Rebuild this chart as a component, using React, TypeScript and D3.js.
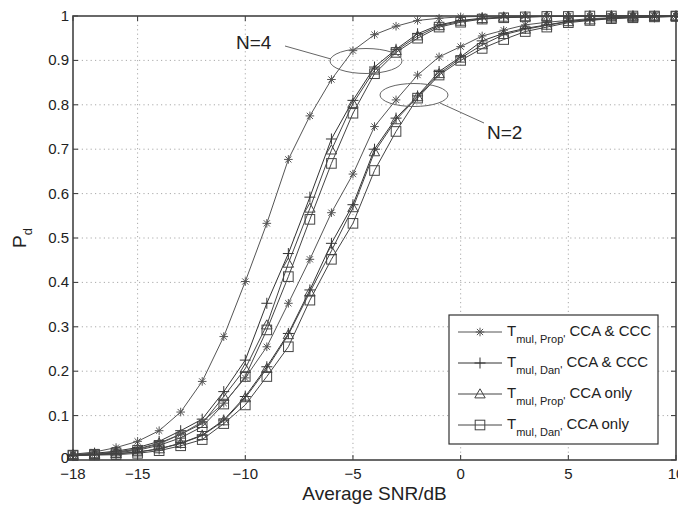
import React from "react";
import * as d3 from "d3";

const snr = d3.range(-18, 11, 1);

const n4PropFull = [0.013, 0.018, 0.028, 0.042, 0.066, 0.108, 0.177, 0.278, 0.402, 0.533, 0.677, 0.775, 0.857, 0.922, 0.958, 0.977, 0.99, 0.995, 0.998, 0.999, 1, 1, 1, 1, 1, 1, 1, 1, 1];
const n4DanFull = [0.012, 0.015, 0.02, 0.028, 0.042, 0.066, 0.092, 0.154, 0.225, 0.353, 0.465, 0.592, 0.723, 0.81, 0.885, 0.925, 0.96, 0.98, 0.99, 0.995, 0.997, 0.998, 0.999, 0.999, 1, 1, 1, 1, 1];
const n4PropCCA = [0.012, 0.014, 0.018, 0.025, 0.038, 0.058, 0.082, 0.143, 0.206, 0.304, 0.443, 0.567, 0.698, 0.803, 0.878, 0.922, 0.955, 0.978, 0.988, 0.994, 0.997, 0.998, 0.999, 0.999, 1, 1, 1, 1, 1];
const n4DanCCA = [0.011, 0.013, 0.016, 0.022, 0.033, 0.05, 0.075, 0.126, 0.188, 0.293, 0.413, 0.542, 0.668, 0.781, 0.87, 0.918, 0.95, 0.975, 0.986, 0.993, 0.996, 0.998, 0.999, 0.999, 1, 1, 1, 1, 1];

const n2PropFull = [0.011, 0.013, 0.017, 0.024, 0.036, 0.058, 0.086, 0.128, 0.185, 0.255, 0.353, 0.452, 0.557, 0.644, 0.751, 0.811, 0.867, 0.908, 0.931, 0.955, 0.968, 0.98, 0.986, 0.99, 0.994, 0.996, 0.998, 0.999, 1];
const n2DanFull = [0.01, 0.012, 0.014, 0.018, 0.025, 0.038, 0.056, 0.09, 0.143, 0.21, 0.285, 0.383, 0.488, 0.575, 0.7, 0.77, 0.82, 0.875, 0.908, 0.944, 0.961, 0.972, 0.98, 0.988, 0.992, 0.995, 0.997, 0.998, 0.999];
const n2PropCCA = [0.01, 0.012, 0.014, 0.018, 0.025, 0.037, 0.055, 0.088, 0.14, 0.206, 0.282, 0.378, 0.471, 0.568, 0.694, 0.766, 0.818, 0.87, 0.905, 0.935, 0.958, 0.97, 0.979, 0.987, 0.991, 0.995, 0.997, 0.998, 0.999];
const n2DanCCA = [0.01, 0.011, 0.012, 0.015, 0.021, 0.032, 0.046, 0.082, 0.124, 0.188, 0.255, 0.36, 0.452, 0.533, 0.652, 0.74, 0.815, 0.867, 0.9, 0.927, 0.947, 0.965, 0.975, 0.985, 0.99, 0.994, 0.996, 0.998, 0.999];

const xTicks = [-18, -15, -10, -5, 0, 5, 10];
const yTicks = [0, 0.1, 0.2, 0.3, 0.4, 0.5, 0.6, 0.7, 0.8, 0.9, 1];

type MarkerKind = "star" | "plus" | "tri" | "square";
const series: { values: number[]; marker: MarkerKind; color: string }[] = [
  { values: n4PropFull, marker: "star", color: "#555" },
  { values: n4DanFull, marker: "plus", color: "#333" },
  { values: n4PropCCA, marker: "tri", color: "#444" },
  { values: n4DanCCA, marker: "square", color: "#444" },
  { values: n2PropFull, marker: "star", color: "#555" },
  { values: n2DanFull, marker: "plus", color: "#333" },
  { values: n2PropCCA, marker: "tri", color: "#444" },
  { values: n2DanCCA, marker: "square", color: "#444" },
];

const legendItems: { marker: MarkerKind; sub: string; rest: string; color: string }[] = [
  { marker: "star", sub: "mul, Prop'", rest: " CCA & CCC", color: "#555" },
  { marker: "plus", sub: "mul, Dan'", rest: " CCA & CCC", color: "#333" },
  { marker: "tri", sub: "mul, Prop'", rest: " CCA only", color: "#444" },
  { marker: "square", sub: "mul, Dan'", rest: " CCA only", color: "#444" },
];

const W = 678;
const H = 507;
const M = { left: 73, right: 676, top: 16, bottom: 460 };

function Marker({ kind, x, y, color }: { kind: MarkerKind; x: number; y: number; color: string }) {
  const s = 4.3;
  if (kind === "star") {
    const d = s * 0.72;
    return (
      <g stroke={color} strokeWidth={1}>
        <line x1={x - s} y1={y} x2={x + s} y2={y} />
        <line x1={x} y1={y - s} x2={x} y2={y + s} />
        <line x1={x - d} y1={y - d} x2={x + d} y2={y + d} />
        <line x1={x - d} y1={y + d} x2={x + d} y2={y - d} />
      </g>
    );
  }
  if (kind === "plus") {
    const p = 5.5;
    return (
      <g stroke={color} strokeWidth={1}>
        <line x1={x - p} y1={y} x2={x + p} y2={y} />
        <line x1={x} y1={y - p} x2={x} y2={y + p} />
      </g>
    );
  }
  if (kind === "tri") {
    const t = 5.2;
    return (
      <path
        d={`M${x},${y - t} L${x + t},${y + t * 0.75} L${x - t},${y + t * 0.75} Z`}
        fill="none"
        stroke={color}
        strokeWidth={1}
      />
    );
  }
  const q = 4.8;
  return <rect x={x - q} y={y - q} width={2 * q} height={2 * q} fill="none" stroke={color} strokeWidth={1} />;
}

export default function App() {
  const x = d3.scaleLinear().domain([-18, 10]).range([M.left, M.right]);
  const y = d3.scaleLinear().domain([0, 1]).range([M.bottom, M.top]);
  const line = d3
    .line<[number, number]>()
    .x((d) => x(d[0]))
    .y((d) => y(d[1]));

  const font = "Arial, 'Liberation Sans', Helvetica, sans-serif";

  return (
    <svg
      width={W}
      height={H}
      style={{ position: "absolute", left: 0, top: 0, background: "#fff" }}
      fontFamily={font}
    >
      <rect x={0} y={0} width={W} height={H} fill="#fff" />
      {/* grid */}
      {xTicks.slice(1, -1).map((t) => (
        <line key={"gx" + t} x1={x(t)} x2={x(t)} y1={M.top} y2={M.bottom} stroke="#aaa" strokeDasharray="1.2,3.2" strokeWidth={1} />
      ))}
      {yTicks.slice(1, -1).map((t) => (
        <line key={"gy" + t} x1={M.left} x2={M.right} y1={y(t)} y2={y(t)} stroke="#aaa" strokeDasharray="1.2,3.2" strokeWidth={1} />
      ))}
      {/* tick marks */}
      {xTicks.map((t) => (
        <g key={"tx" + t} stroke="#333">
          <line x1={x(t)} x2={x(t)} y1={M.bottom} y2={M.bottom - 5} />
          <line x1={x(t)} x2={x(t)} y1={M.top} y2={M.top + 5} />
        </g>
      ))}
      {yTicks.map((t) => (
        <g key={"ty" + t} stroke="#333">
          <line x1={M.left} x2={M.left + 5} y1={y(t)} y2={y(t)} />
          <line x1={M.right} x2={M.right - 5} y1={y(t)} y2={y(t)} />
        </g>
      ))}
      {/* curves */}
      {series.map((s, i) => {
        const pts: [number, number][] = snr.map((v, j) => [v, s.values[j]]);
        return (
          <g key={"s" + i}>
            <path d={line(pts) || ""} fill="none" stroke={s.color} strokeWidth={1} />
            {pts.map((p, j) => (
              <Marker key={j} kind={s.marker} x={x(p[0])} y={y(p[1])} color={s.color} />
            ))}
          </g>
        );
      })}
      {/* frame */}
      <rect x={M.left} y={M.top} width={M.right - M.left} height={M.bottom - M.top} fill="none" stroke="#444" strokeWidth={1.6} />
      {/* tick labels */}
      {xTicks.map((t) => (
        <text key={"lx" + t} x={x(t)} y={M.bottom + 19} textAnchor="middle" fontSize={15} fill="#222">
          {t < 0 ? "\u2212" + Math.abs(t) : String(t)}
        </text>
      ))}
      {yTicks.map((t) => (
        <text key={"ly" + t} x={M.left - 4} y={y(t) + (t === 0 ? 3 : 5)} textAnchor="end" fontSize={15} fill="#222">
          {String(t)}
        </text>
      ))}
      {/* axis titles */}
      <text x={(M.left + M.right) / 2} y={500} textAnchor="middle" fontSize={19} fill="#222">
        Average SNR/dB
      </text>
      <g transform={`translate(26, ${(M.top + M.bottom) / 2}) rotate(-90)`}>
        <text x={0} y={0} textAnchor="middle" fontSize={19} fill="#222">
          P<tspan fontSize={13} dy={6}>d</tspan>
        </text>
      </g>
      {/* annotations */}
      <ellipse cx={366} cy={61} rx={36} ry={12.5} fill="none" stroke="#666" strokeWidth={1} />
      <line x1={285} y1={46} x2={331} y2={59} stroke="#666" strokeWidth={1} />
      <text x={236} y={49} fontSize={19} fill="#222">N=4</text>
      <ellipse cx={414} cy={95} rx={34} ry={11.5} fill="none" stroke="#666" strokeWidth={1} />
      <line x1={440} y1={103} x2={484} y2={123} stroke="#666" strokeWidth={1} />
      <text x={487} y={139} fontSize={19} fill="#222">N=2</text>
      {/* legend */}
      <rect x={449} y={315} width={209} height={129} fill="#fff" stroke="#333" strokeWidth={1.2} />
      {legendItems.map((it, i) => {
        const ly = 332 + i * 31;
        return (
          <g key={"lg" + i}>
            <line x1={458} x2={502} y1={ly} y2={ly} stroke={it.color} strokeWidth={1} />
            <Marker kind={it.marker} x={480} y={ly} color={it.color} />
            <text x={507} y={ly + 4} fontSize={15} fill="#222">
              T
              <tspan fontSize={11} dy={7}>{it.sub}</tspan>
              <tspan fontSize={15} dy={-7}>{it.rest}</tspan>
            </text>
          </g>
        );
      })}
    </svg>
  );
}
